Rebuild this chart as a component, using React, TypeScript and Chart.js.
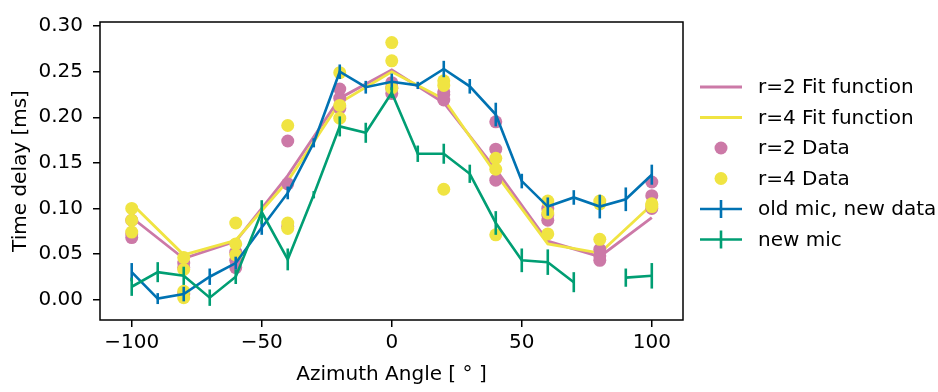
import React, { useEffect, useRef } from "react";
import { Chart, registerables } from "chart.js";

Chart.register(...registerables);

// ---------- data ----------
const fitAngles = [-100, -80, -60, -40, -20, 0, 20, 40, 60, 80, 100];
const r2Fit = [0.090, 0.045, 0.064, 0.136, 0.221, 0.252, 0.216, 0.143, 0.064, 0.047, 0.090];
const r4Fit = [0.105, 0.049, 0.065, 0.130, 0.216, 0.250, 0.220, 0.138, 0.061, 0.051, 0.104];

const r2Data = [
  [0.068, 0.072, 0.087],
  [0.035, 0.040, 0.006],
  [0.035, 0.043, 0.052],
  [0.174, 0.127, 0.080],
  [0.231, 0.221, 0.210],
  [0.238, 0.232, 0.226],
  [0.228, 0.219, 0.225],
  [0.195, 0.165, 0.131],
  [0.100, 0.093, 0.087],
  [0.055, 0.043, 0.048],
  [0.129, 0.114, 0.100],
];
const r4Data = [
  [0.100, 0.087, 0.074],
  [0.046, 0.033, 0.009, 0.002],
  [0.084, 0.061, 0.049],
  [0.191, 0.084, 0.078],
  [0.249, 0.213, 0.199],
  [0.282, 0.262, 0.232],
  [0.240, 0.235, 0.121],
  [0.155, 0.143, 0.071],
  [0.108, 0.095, 0.072],
  [0.108, 0.066, 0.105],
  [0.104, 0.102, 0.105],
];

const micAngles = [-100, -90, -80, -70, -60, -50, -40, -30, -20, -10, 0, 10, 20, 30, 40, 50, 60, 70, 80, 90, 100];
const oldMic = [0.030, 0.001, 0.006, 0.025, 0.040, 0.079, 0.117, 0.172, 0.250, 0.233, 0.239, 0.235, 0.253, 0.234, 0.203, 0.130, 0.102, 0.112, 0.102, 0.110, 0.137];
const oldMicErr = [0.010, 0.006, 0.008, 0.009, 0.007, 0.008, 0.007, 0.005, 0.008, 0.007, 0.009, 0.004, 0.009, 0.008, 0.013, 0.008, 0.010, 0.008, 0.013, 0.013, 0.011];
const newMic = [0.014, 0.030, 0.026, 0.002, 0.025, 0.096, 0.044, 0.115, 0.190, 0.183, 0.227, 0.160, 0.160, 0.138, 0.084, 0.043, 0.041, 0.019, null, 0.024, 0.026];
const newMicErr = [0.010, 0.011, 0.010, 0.009, 0.008, 0.013, 0.012, 0.004, 0.011, 0.011, 0.006, 0.009, 0.011, 0.010, 0.013, 0.013, 0.014, 0.011, 0, 0.010, 0.014];

const xTicks = [-100, -50, 0, 50, 100];
const yTicks = [0, 0.05, 0.1, 0.15, 0.2, 0.25, 0.3];

const legendLabels = ["r=2 Fit function", "r=4 Fit function", "r=2 Data", "r=4 Data", "old mic, new data", "new mic"];

// ---------- style ----------
const PINK = "#CC79A7";
const YELLOW = "#F0E442";
const BLUE = "#0072B2";
const GREEN = "#009E73";
const FONT = "'DejaVu Sans', sans-serif";
const FS = 20;

export default function App() {
  const ref = useRef<HTMLCanvasElement | null>(null);

  useEffect(() => {
    if (!ref.current) return;

    const toPts = (xs: number[], ys: (number | null)[]) => xs.map((x, i) => ({ x, y: ys[i] }));
    const groupPts = (xs: number[], groups: number[][]) =>
      xs.flatMap((x, i) => groups[i].map((y) => ({ x, y })));

    const errMap: Record<number, { err: number[]; color: string }> = {
      4: { err: oldMicErr, color: BLUE },
      5: { err: newMicErr, color: GREEN },
    };

    const errorBarPlugin = {
      id: "errorBars",
      afterDatasetDraw(chart: any, args: any) {
        const spec = errMap[args.index];
        if (!spec) return;
        const ds = chart.data.datasets[args.index];
        const xs = chart.scales.x;
        const ys = chart.scales.y;
        const ctx = chart.ctx;
        ctx.save();
        ctx.strokeStyle = spec.color;
        ctx.lineWidth = 2.6;
        ds.data.forEach((p: any, i: number) => {
          if (p.y === null || p.y === undefined) return;
          const px = xs.getPixelForValue(p.x);
          const y1 = ys.getPixelForValue(p.y - spec.err[i]);
          const y2 = ys.getPixelForValue(p.y + spec.err[i]);
          ctx.beginPath();
          ctx.moveTo(px, y1);
          ctx.lineTo(px, y2);
          ctx.stroke();
        });
        ctx.restore();
      },
    };

    const framePlugin = {
      id: "frame",
      afterDatasetsDraw(chart: any) {
        const { left, right, top, bottom } = chart.chartArea;
        const ctx = chart.ctx;
        ctx.save();
        ctx.strokeStyle = "#000";
        ctx.lineWidth = 1.5;
        ctx.strokeRect(left, top, right - left, bottom - top);
        ctx.restore();
      },
    };

    const legendPlugin = {
      id: "customLegend",
      afterDraw(chart: any) {
        const ctx = chart.ctx;
        const x0 = 700;
        const x1 = 742;
        const xm = (x0 + x1) / 2;
        const tx = 758;
        const y0 = 87;
        const dy = 30.5;
        const kinds = ["line", "line", "dot", "dot", "err", "err"];
        const colors = [PINK, YELLOW, PINK, YELLOW, BLUE, GREEN];
        ctx.save();
        legendLabels.forEach((label, i) => {
          const y = y0 + i * dy;
          const c = colors[i];
          if (kinds[i] === "line" || kinds[i] === "err") {
            ctx.strokeStyle = c;
            ctx.lineWidth = kinds[i] === "line" ? 2.8 : 2.6;
            ctx.beginPath();
            ctx.moveTo(x0, y);
            ctx.lineTo(x1, y);
            ctx.stroke();
            if (kinds[i] === "err") {
              ctx.beginPath();
              ctx.moveTo(xm, y - 9);
              ctx.lineTo(xm, y + 9);
              ctx.stroke();
            }
          } else {
            ctx.fillStyle = c;
            ctx.beginPath();
            ctx.arc(xm, y, 6.5, 0, Math.PI * 2);
            ctx.fill();
          }
          ctx.fillStyle = "#000";
          ctx.font = `${FS}px ${FONT}`;
          ctx.textAlign = "left";
          ctx.textBaseline = "middle";
          ctx.fillText(label, tx, y + 1);
        });
        ctx.restore();
      },
    };

    const tickFont = { family: FONT, size: FS };

    const chart = new Chart(ref.current, {
      type: "line",
      data: {
        datasets: [
          {
            label: "r=2 Fit function",
            data: toPts(fitAngles, r2Fit),
            borderColor: PINK,
            borderWidth: 2.8,
            pointRadius: 0,
            fill: false,
            order: 6,
          },
          {
            label: "r=4 Fit function",
            data: toPts(fitAngles, r4Fit),
            borderColor: YELLOW,
            borderWidth: 2.8,
            pointRadius: 0,
            fill: false,
            order: 5,
          },
          {
            label: "r=2 Data",
            data: groupPts(fitAngles, r2Data),
            showLine: false,
            pointRadius: 6.5,
            pointBackgroundColor: PINK,
            pointBorderWidth: 0,
            backgroundColor: PINK,
            borderColor: PINK,
            order: 4,
          },
          {
            label: "r=4 Data",
            data: groupPts(fitAngles, r4Data),
            showLine: false,
            pointRadius: 6.5,
            pointBackgroundColor: YELLOW,
            pointBorderWidth: 0,
            backgroundColor: YELLOW,
            borderColor: YELLOW,
            order: 3,
          },
          {
            label: "old mic, new data",
            data: toPts(micAngles, oldMic),
            borderColor: BLUE,
            borderWidth: 2.6,
            pointRadius: 0,
            fill: false,
            order: 2,
          },
          {
            label: "new mic",
            data: toPts(micAngles, newMic),
            borderColor: GREEN,
            borderWidth: 2.6,
            pointRadius: 0,
            fill: false,
            spanGaps: false,
            order: 1,
          },
        ] as any,
      },
      options: {
        animation: false,
        responsive: false,
        devicePixelRatio: 1,
        layout: { padding: { top: 7, right: 255, left: 0, bottom: 0 } },
        plugins: { legend: { display: false }, tooltip: { enabled: false } },
        elements: { line: { tension: 0 } },
        scales: {
          x: {
            type: "linear",
            min: -112.2,
            max: 112,
            afterBuildTicks: (s: any) => {
              s.ticks = xTicks.map((v) => ({ value: v }));
            },
            afterFit: (s: any) => {
              s.height = 72;
            },
            ticks: {
              font: tickFont,
              color: "#000",
              padding: 4,
              maxRotation: 0,
              autoSkip: false,
              callback: (v: any) => (Number(v) < 0 ? "\u2212" + Math.abs(Number(v)) : String(v)),
            },
            grid: { drawOnChartArea: false, drawTicks: true, tickLength: 7, color: "#000", lineWidth: 1.5 },
            border: { display: false },
            title: {
              display: true,
              text: "Azimuth Angle [ \u00B0 ]",
              font: tickFont,
              color: "#000",
              padding: { top: 0, bottom: 5 },
            },
          },
          y: {
            type: "linear",
            min: -0.0225,
            max: 0.3046,
            afterBuildTicks: (s: any) => {
              s.ticks = yTicks.map((v) => ({ value: v }));
            },
            afterFit: (s: any) => {
              s.width = 100;
            },
            ticks: {
              font: tickFont,
              color: "#000",
              padding: 10,
              autoSkip: false,
              callback: (v: any) => Number(v).toFixed(2),
            },
            grid: { drawOnChartArea: false, drawTicks: true, tickLength: 7, color: "#000", lineWidth: 1.5 },
            border: { display: false },
            title: {
              display: true,
              text: "Time delay [ms]",
              font: tickFont,
              color: "#000",
              padding: { top: 9, bottom: 0 },
            },
          },
        },
      } as any,
      plugins: [errorBarPlugin, framePlugin, legendPlugin],
    });

    return () => chart.destroy();
  }, []);

  return (
    <div style={{ position: "absolute", left: 0, top: 0, width: 938, height: 392, background: "#fff" }}>
      <canvas ref={ref} width={938} height={392} style={{ display: "block" }} />
    </div>
  );
}
